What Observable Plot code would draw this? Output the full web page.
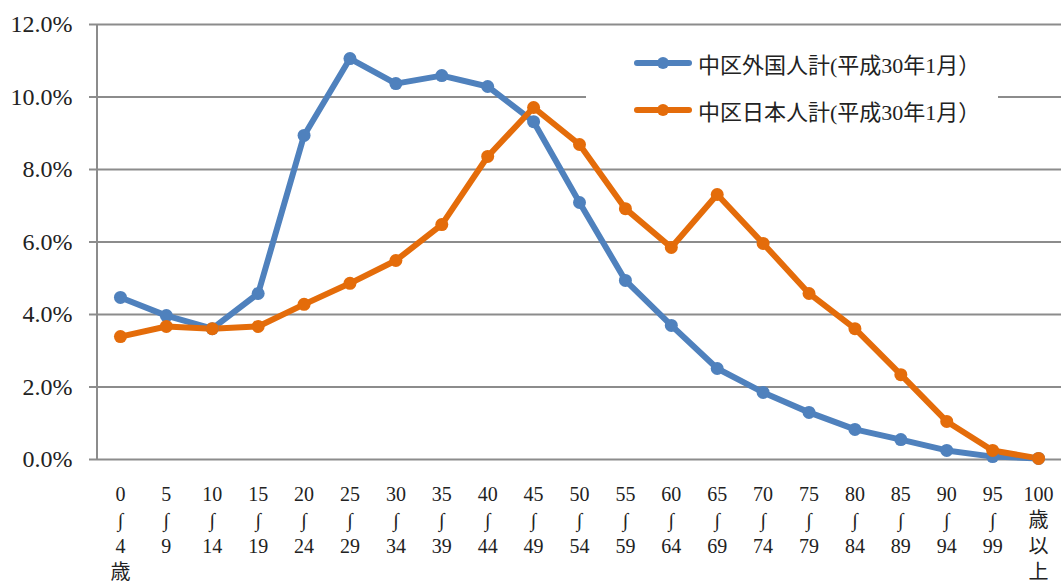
<!DOCTYPE html>
<html>
<head>
<meta charset="utf-8">
<script src="https://cdn.jsdelivr.net/npm/d3@7"></script>
<script src="https://cdn.jsdelivr.net/npm/@observablehq/plot@0.6"></script>
<style>
  html, body { margin: 0; padding: 0; background: #fff; }
  #wrap { position: relative; width: 1061px; height: 583px; font-family: "Liberation Serif", "Noto Sans CJK JP", serif; }
  #legend { position: absolute; left: 586px; top: 36px; width: 412px; height: 98px; background: #fff; }
  .item { position: absolute; left: 46px; display: flex; align-items: center; font-size: 22px; color: #222; white-space: nowrap; }
  .item svg { margin-right: 4px; }
</style>
</head>
<body>
<div id="wrap"></div>
<script>
const ageGroups = ["0-4","5-9","10-14","15-19","20-24","25-29","30-34","35-39","40-44","45-49","50-54","55-59","60-64","65-69","70-74","75-79","80-84","85-89","90-94","95-99","100+"];
const tickLabels = ["0\n∫\n4\n歳","5\n∫\n9","10\n∫\n14","15\n∫\n19","20\n∫\n24","25\n∫\n29","30\n∫\n34","35\n∫\n39","40\n∫\n44","45\n∫\n49","50\n∫\n54","55\n∫\n59","60\n∫\n64","65\n∫\n69","70\n∫\n74","75\n∫\n79","80\n∫\n84","85\n∫\n89","90\n∫\n94","95\n∫\n99","100\n歳\n以\n上"];
const seriesNames = ["中区外国人計(平成30年1月）", "中区日本人計(平成30年1月）"];
const foreignValues = [4.47, 3.97, 3.61, 4.58, 8.94, 11.06, 10.37, 10.59, 10.29, 9.32, 7.09, 4.94, 3.70, 2.51, 1.85, 1.30, 0.83, 0.55, 0.25, 0.08, 0.03];
const japaneseValues = [3.39, 3.67, 3.61, 3.67, 4.28, 4.86, 5.49, 6.48, 8.36, 9.71, 8.69, 6.92, 5.85, 7.31, 5.96, 4.58, 3.61, 2.34, 1.05, 0.25, 0.03];
const yTicks = [0, 2, 4, 6, 8, 10, 12];
const colors = ["#4F81BD", "#E46C0A"];

const data = [];
ageGroups.forEach((a, i) => {
  data.push({age: a, value: foreignValues[i], series: seriesNames[0]});
  data.push({age: a, value: japaneseValues[i], series: seriesNames[1]});
});
const labelOf = new Map(ageGroups.map((a, i) => [a, tickLabels[i]]));

const chart = Plot.plot({
  width: 1061,
  height: 583,
  marginLeft: 97,
  marginRight: 0,
  marginTop: 24,
  marginBottom: 124,
  style: {fontFamily: '"Liberation Serif", "Noto Sans CJK JP", serif', background: "#fff"},
  x: {type: "point", domain: ageGroups, padding: 0.5, round: false},
  y: {domain: [0, 12]},
  color: {domain: seriesNames, range: colors},
  marks: [
    Plot.gridY(yTicks, {stroke: "#8c8c8c", strokeOpacity: 1, strokeWidth: 2}),
    Plot.axisY(yTicks, {tickFormat: d => d.toFixed(1) + "%", tickSize: 8, tickPadding: 17, fontSize: 24, stroke: "#8c8c8c", strokeWidth: 2, label: null, fill: "#222"}),
    Plot.axisX({tickFormat: d => labelOf.get(d), tickSize: 0, tickPadding: 23, fontSize: 20, lineHeight: 1.3, lineAnchor: "top", label: null, fill: "#222"}),
    Plot.line(data, {x: "age", y: "value", stroke: "series", z: "series", strokeWidth: 6, strokeLinejoin: "round", strokeLinecap: "round"}),
    Plot.dot(data, {x: "age", y: "value", fill: "series", r: 6.5, stroke: "none"})
  ]
});

const wrap = document.getElementById("wrap");
wrap.appendChild(chart);
const svgNS = "http://www.w3.org/2000/svg";
const yScale = chart.scale("y");
const line = document.createElementNS(svgNS, "line");
line.setAttribute("x1", 97); line.setAttribute("x2", 97);
line.setAttribute("y1", yScale.apply(12)); line.setAttribute("y2", yScale.apply(0));
line.setAttribute("stroke", "#8c8c8c"); line.setAttribute("stroke-width", 2);
chart.appendChild(line);

// legend
const legend = document.createElement("div");
legend.id = "legend";
seriesNames.forEach((name, i) => {
  const item = document.createElement("div");
  item.className = "item";
  item.style.top = (i === 0 ? 11 : 58) + "px";
  item.innerHTML = `<svg width="62" height="16"><line x1="5" x2="57" y1="8" y2="8" stroke="${colors[i]}" stroke-width="6" stroke-linecap="round"/><circle cx="31" cy="8" r="6" fill="${colors[i]}"/></svg><span>${name}</span>`;
  legend.appendChild(item);
});
wrap.appendChild(legend);
</script>
</body>
</html>
